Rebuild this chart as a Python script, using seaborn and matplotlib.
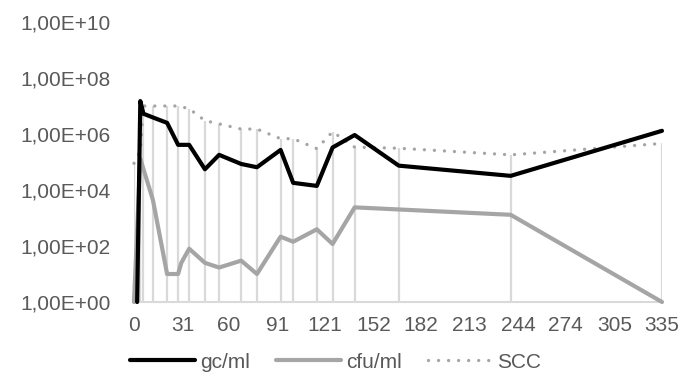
import numpy as np
import pandas as pd
import matplotlib
matplotlib.use("Agg")
import matplotlib.pyplot as plt
import seaborn as sns
from matplotlib.ticker import FixedLocator, FuncFormatter, NullLocator
from matplotlib.lines import Line2D

# Sampling days and measured values per series
gc_days = [2, 4, 6, 12, 21, 28, 35, 45, 54, 68, 78, 93, 101, 116, 126, 140, 168, 239, 335]
gc_ml = [1, 1.5e7, 5.3e6, 3.9e6, 2.5e6, 4.1e5, 4.1e5, 5.5e4, 1.8e5, 8.5e4, 6.5e4,
         2.7e5, 1.8e4, 1.4e4, 3.3e5, 9.2e5, 7.4e4, 3.2e4, 1.3e6]

cfu_days = [0, 4, 12, 21, 28, 30, 35, 45, 54, 68, 78, 93, 101, 116, 126, 140, 239, 335]
cfu_ml = [1, 1.3e5, 4.4e3, 10, 10, 25, 80, 25, 17, 30, 10, 215, 142, 395, 118, 2.4e3, 1.3e3, 1]

scc_days = [0, 4, 6, 12, 21, 28, 35, 45, 54, 68, 78, 93, 101, 116, 126, 140, 168, 239, 335]
scc = [9e4, 2.5e5, 1e7, 1e7, 1e7, 1e7, 8e6, 3e6, 2.3e6, 1.5e6, 1.5e6, 6.8e5, 6.8e5,
       3e5, 1.2e6, 3.4e5, 3.1e5, 1.8e5, 4.6e5]

x_ticks = [0, 31, 60, 91, 121, 152, 182, 213, 244, 274, 305, 335]
y_ticks = [1e0, 1e2, 1e4, 1e6, 1e8, 1e10]

series_names = ["gc/ml", "cfu/ml", "SCC"]

sns.set_theme(style="white")
plt.rcParams["font.family"] = ["Liberation Sans", "DejaVu Sans"]
TXT = "#595959"
GRID = "#d9d9d9"
GREY = "#a5a5a5"
FS = 15

fig = plt.figure(figsize=(6.97, 3.85), dpi=100)
ax = fig.add_axes([134 / 697, 1 - 302 / 385, (662 - 134) / 697, (302 - 22) / 385])

# Drop lines from each SCC sample down to the axis
ax.vlines(scc_days, 1, scc, color=GRID, lw=1.6, zorder=1)

df_gc = pd.DataFrame({"day": gc_days, "value": gc_ml})
df_cfu = pd.DataFrame({"day": cfu_days, "value": cfu_ml})
df_scc = pd.DataFrame({"day": scc_days, "value": scc})

sns.lineplot(data=df_cfu, x="day", y="value", ax=ax, color=GREY, lw=3.0,
             sort=False, estimator=None, zorder=3)
sns.lineplot(data=df_scc, x="day", y="value", ax=ax, color=GREY, lw=2.4,
             sort=False, estimator=None, zorder=4,
             linestyle=(0, (0.01, 3.0)), dash_capstyle="round")
sns.lineplot(data=df_gc, x="day", y="value", ax=ax, color="black", lw=3.0,
             sort=False, estimator=None, zorder=5)

ax.set_yscale("log")
ax.set_ylim(1, 1e10)
ax.set_xlim(0, 335)
ax.yaxis.set_major_locator(FixedLocator(y_ticks))
ax.yaxis.set_minor_locator(NullLocator())
ax.yaxis.set_major_formatter(FuncFormatter(lambda v, p: f"{v:.2E}".replace(".", ",")))
ax.xaxis.set_major_locator(FixedLocator(x_ticks))
ax.set_xticklabels([str(t) for t in x_ticks])
ax.set_xlabel("")
ax.set_ylabel("")
ax.grid(False)

for side in ["top", "right", "left"]:
    ax.spines[side].set_visible(False)
ax.spines["bottom"].set_color(GRID)
ax.spines["bottom"].set_linewidth(1.5)
ax.spines["bottom"].set_zorder(0)
ax.tick_params(axis="both", length=0, labelsize=FS, colors=TXT)
ax.tick_params(axis="y", pad=17)
ax.tick_params(axis="x", pad=10)
for ln in ax.lines:
    ln.set_clip_on(False)

handles = [
    Line2D([], [], color="black", lw=3.0),
    Line2D([], [], color=GREY, lw=3.0),
    Line2D([], [], color=GREY, lw=2.4, linestyle=(0, (0.01, 3.0)), dash_capstyle="round"),
]
leg = fig.legend(handles, series_names, loc="center", bbox_to_anchor=(336 / 697, 1 - 362 / 385),
                 ncol=3, frameon=False, fontsize=FS, handlelength=3.1,
                 handletextpad=0.25, columnspacing=1.25)
for t in leg.get_texts():
    t.set_color(TXT)

fig.savefig("out.png", dpi=100)
